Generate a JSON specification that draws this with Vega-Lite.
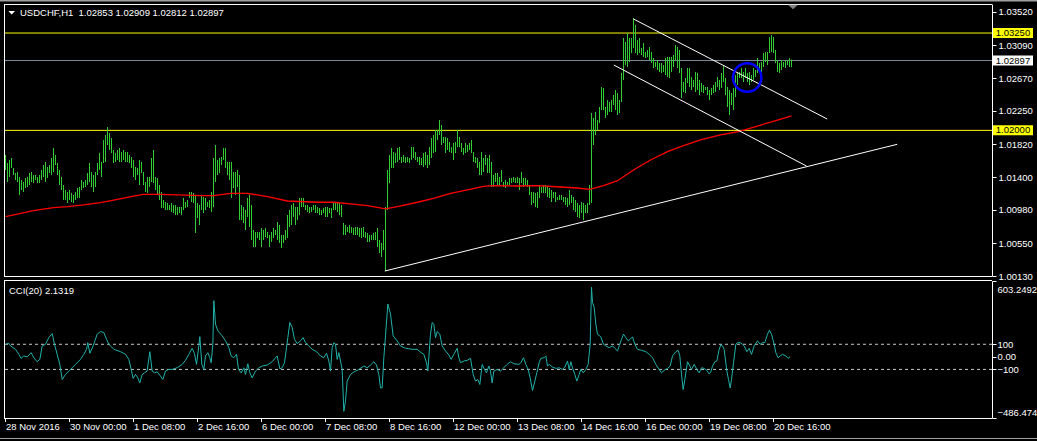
{
"$schema":"https://vega.github.io/schema/vega-lite/v6.json",
"width":988,"height":418,
"autosize":{"type":"none"},
"padding":{"left":4,"top":0,"right":45,"bottom":23},
"background":"#000000",
"config":{"view":{"stroke":null}},
"datasets":{
"bars":[
{"i":0,"h":1.01684,"l":1.01491},{"i":1,"h":1.01581,"l":1.01337},{"i":2,"h":1.01619,"l":1.01401},{"i":3,"h":1.01645,"l":1.01517},{"i":4,"h":1.01517,"l":1.01427},{"i":5,"h":1.01453,"l":1.01363},{"i":6,"h":1.01465,"l":1.01337},{"i":7,"h":1.01401,"l":1.0117},{"i":8,"h":1.01363,"l":1.01234},{"i":9,"h":1.01337,"l":1.01209},
{"i":10,"h":1.01388,"l":1.0126},{"i":11,"h":1.01401,"l":1.01273},{"i":12,"h":1.01453,"l":1.01298},{"i":13,"h":1.01465,"l":1.01337},{"i":14,"h":1.01427,"l":1.01324},{"i":15,"h":1.01427,"l":1.01363},{"i":16,"h":1.01401,"l":1.01324},{"i":17,"h":1.01427,"l":1.01324},{"i":18,"h":1.01491,"l":1.01363},{"i":19,"h":1.01555,"l":1.01401},
{"i":20,"h":1.01594,"l":1.01337},{"i":21,"h":1.0153,"l":1.01388},{"i":22,"h":1.01555,"l":1.01453},{"i":23,"h":1.01645,"l":1.01427},{"i":24,"h":1.01774,"l":1.01465},{"i":25,"h":1.01684,"l":1.01555},{"i":26,"h":1.01581,"l":1.01427},{"i":27,"h":1.01491,"l":1.01298},{"i":28,"h":1.01401,"l":1.01234},{"i":29,"h":1.01298,"l":1.01106},
{"i":30,"h":1.01234,"l":1.01106},{"i":31,"h":1.01209,"l":1.01067},{"i":32,"h":1.01234,"l":1.01106},{"i":33,"h":1.01196,"l":1.0108},{"i":34,"h":1.0117,"l":1.01067},{"i":35,"h":1.01209,"l":1.01106},{"i":36,"h":1.0126,"l":1.01132},{"i":37,"h":1.01273,"l":1.01132},{"i":38,"h":1.01363,"l":1.01234},{"i":39,"h":1.01337,"l":1.0126},
{"i":40,"h":1.01363,"l":1.01273},{"i":41,"h":1.01453,"l":1.01298},{"i":42,"h":1.01581,"l":1.01337},{"i":43,"h":1.01465,"l":1.01273},{"i":44,"h":1.01427,"l":1.01209},{"i":45,"h":1.01465,"l":1.01273},{"i":46,"h":1.01581,"l":1.01427},{"i":47,"h":1.01709,"l":1.01491},{"i":48,"h":1.01594,"l":1.01401},{"i":49,"h":1.01876,"l":1.01581},
{"i":50,"h":1.0194,"l":1.01594},{"i":51,"h":1.02043,"l":1.01812},{"i":52,"h":1.01966,"l":1.01748},{"i":53,"h":1.01902,"l":1.01709},{"i":54,"h":1.01748,"l":1.01581},{"i":55,"h":1.01709,"l":1.01594},{"i":56,"h":1.01748,"l":1.01619},{"i":57,"h":1.01774,"l":1.01594},{"i":58,"h":1.01722,"l":1.01594},{"i":59,"h":1.01748,"l":1.01619},
{"i":60,"h":1.01722,"l":1.01594},{"i":61,"h":1.01722,"l":1.01594},{"i":62,"h":1.01684,"l":1.01581},{"i":63,"h":1.01658,"l":1.01517},{"i":64,"h":1.01619,"l":1.01401},{"i":65,"h":1.0153,"l":1.01363},{"i":66,"h":1.01517,"l":1.01427},{"i":67,"h":1.01619,"l":1.01298},{"i":68,"h":1.01594,"l":1.01453},{"i":69,"h":1.01465,"l":1.01298},
{"i":70,"h":1.01337,"l":1.01209},{"i":71,"h":1.01401,"l":1.01196},{"i":72,"h":1.01401,"l":1.01273},{"i":73,"h":1.01645,"l":1.01337},{"i":74,"h":1.01748,"l":1.01324},{"i":75,"h":1.01401,"l":1.01234},{"i":76,"h":1.01388,"l":1.0117},{"i":77,"h":1.01298,"l":1.01106},{"i":78,"h":1.01209,"l":1.01003},{"i":79,"h":1.01106,"l":1.01003},
{"i":80,"h":1.0108,"l":1.00977},{"i":81,"h":1.01067,"l":1.00977},{"i":82,"h":1.01042,"l":1.00977},{"i":83,"h":1.01067,"l":1.00952},{"i":84,"h":1.01042,"l":1.00939},{"i":85,"h":1.01042,"l":1.00913},{"i":86,"h":1.01016,"l":1.00913},{"i":87,"h":1.01016,"l":1.00939},{"i":88,"h":1.01016,"l":1.00913},{"i":89,"h":1.01132,"l":1.00977},
{"i":90,"h":1.0108,"l":1.01003},{"i":91,"h":1.01106,"l":1.01016},{"i":92,"h":1.01209,"l":1.01132},{"i":93,"h":1.01209,"l":1.0108},{"i":94,"h":1.01196,"l":1.01067},{"i":95,"h":1.0117,"l":1.00682},{"i":96,"h":1.01067,"l":1.00875},{"i":97,"h":1.01042,"l":1.00785},{"i":98,"h":1.0117,"l":1.00977},{"i":99,"h":1.01144,"l":1.00939},
{"i":100,"h":1.01132,"l":1.00977},{"i":101,"h":1.0108,"l":1.01016},{"i":102,"h":1.01106,"l":1.01003},{"i":103,"h":1.01209,"l":1.00952},{"i":104,"h":1.01645,"l":1.01016},{"i":105,"h":1.01812,"l":1.01337},{"i":106,"h":1.01619,"l":1.01427},{"i":107,"h":1.01645,"l":1.01453},{"i":108,"h":1.01658,"l":1.01555},{"i":109,"h":1.01774,"l":1.01619},
{"i":110,"h":1.01774,"l":1.01517},{"i":111,"h":1.01594,"l":1.01427},{"i":112,"h":1.01594,"l":1.01363},{"i":113,"h":1.01594,"l":1.01132},{"i":114,"h":1.01465,"l":1.0126},{"i":115,"h":1.01465,"l":1.0117},{"i":116,"h":1.01491,"l":1.01273},{"i":117,"h":1.01427,"l":1.00849},{"i":118,"h":1.01042,"l":1.00849},{"i":119,"h":1.01016,"l":1.00811},
{"i":120,"h":1.00977,"l":1.00721},{"i":121,"h":1.01132,"l":1.00888},{"i":122,"h":1.0117,"l":1.00759},{"i":123,"h":1.01042,"l":1.00592},{"i":124,"h":1.00721,"l":1.00502},{"i":125,"h":1.00695,"l":1.00502},{"i":126,"h":1.00695,"l":1.00618},{"i":127,"h":1.00695,"l":1.00592},{"i":128,"h":1.00746,"l":1.00502},{"i":129,"h":1.00721,"l":1.00592},
{"i":130,"h":1.00746,"l":1.00631},{"i":131,"h":1.00695,"l":1.00618},{"i":132,"h":1.00656,"l":1.00502},{"i":133,"h":1.00695,"l":1.00567},{"i":134,"h":1.00746,"l":1.00618},{"i":135,"h":1.00721,"l":1.00656},{"i":136,"h":1.00823,"l":1.00592},{"i":137,"h":1.00785,"l":1.00554},{"i":138,"h":1.00656,"l":1.0049},{"i":139,"h":1.00656,"l":1.00554},
{"i":140,"h":1.00721,"l":1.00592},{"i":141,"h":1.00913,"l":1.00618},{"i":142,"h":1.00977,"l":1.00759},{"i":143,"h":1.01042,"l":1.00785},{"i":144,"h":1.01067,"l":1.00888},{"i":145,"h":1.01016,"l":1.00785},{"i":146,"h":1.01016,"l":1.00849},{"i":147,"h":1.01132,"l":1.00913},{"i":148,"h":1.01132,"l":1.01016},{"i":149,"h":1.01132,"l":1.01016},
{"i":150,"h":1.01042,"l":1.00977},{"i":151,"h":1.01042,"l":1.00952},{"i":152,"h":1.01016,"l":1.00939},{"i":153,"h":1.01016,"l":1.00952},{"i":154,"h":1.01042,"l":1.00977},{"i":155,"h":1.01042,"l":1.00939},{"i":156,"h":1.01016,"l":1.00939},{"i":157,"h":1.01003,"l":1.00913},{"i":158,"h":1.00977,"l":1.00913},{"i":159,"h":1.01003,"l":1.00939},
{"i":160,"h":1.01016,"l":1.00888},{"i":161,"h":1.01016,"l":1.00888},{"i":162,"h":1.01003,"l":1.00939},{"i":163,"h":1.01003,"l":1.00875},{"i":164,"h":1.0108,"l":1.00977},{"i":165,"h":1.0108,"l":1.00977},{"i":166,"h":1.0108,"l":1.00952},{"i":167,"h":1.01067,"l":1.00913},{"i":168,"h":1.01042,"l":1.00888},{"i":169,"h":1.00811,"l":1.00656},
{"i":170,"h":1.00785,"l":1.00656},{"i":171,"h":1.00759,"l":1.00695},{"i":172,"h":1.00785,"l":1.00682},{"i":173,"h":1.00759,"l":1.00682},{"i":174,"h":1.00746,"l":1.00656},{"i":175,"h":1.00759,"l":1.00656},{"i":176,"h":1.00759,"l":1.00656},{"i":177,"h":1.00746,"l":1.00631},{"i":178,"h":1.00746,"l":1.00618},{"i":179,"h":1.00759,"l":1.00631},
{"i":180,"h":1.00695,"l":1.00618},{"i":181,"h":1.00682,"l":1.00567},{"i":182,"h":1.00656,"l":1.00567},{"i":183,"h":1.00656,"l":1.00592},{"i":184,"h":1.00682,"l":1.00592},{"i":185,"h":1.00695,"l":1.00592},{"i":186,"h":1.00746,"l":1.00502},{"i":187,"h":1.00592,"l":1.00425},{"i":188,"h":1.00554,"l":1.00374},{"i":189,"h":1.00721,"l":1.00464},
{"i":190,"h":1.01016,"l":1.00194},{"i":191,"h":1.01491,"l":1.00977},{"i":192,"h":1.01684,"l":1.01324},{"i":193,"h":1.01774,"l":1.01517},{"i":194,"h":1.01722,"l":1.01517},{"i":195,"h":1.01709,"l":1.01581},{"i":196,"h":1.01774,"l":1.01594},{"i":197,"h":1.01786,"l":1.01619},
{"i":198,"h":1.01658,"l":1.01581},{"i":199,"h":1.01684,"l":1.01594},
{"i":200,"h":1.01658,"l":1.01581},{"i":201,"h":1.01658,"l":1.01594},{"i":202,"h":1.01645,"l":1.01581},{"i":203,"h":1.01786,"l":1.01619},{"i":204,"h":1.01786,"l":1.01645},{"i":205,"h":1.01722,"l":1.01619},{"i":206,"h":1.01658,"l":1.01594},{"i":207,"h":1.01658,"l":1.01555},{"i":208,"h":1.01645,"l":1.01555},{"i":209,"h":1.01709,"l":1.0153},
{"i":210,"h":1.01722,"l":1.01555},{"i":211,"h":1.01684,"l":1.01517},{"i":212,"h":1.01786,"l":1.01555},{"i":213,"h":1.01902,"l":1.01645},{"i":214,"h":1.0194,"l":1.01709},{"i":215,"h":1.02005,"l":1.01722},{"i":216,"h":1.02005,"l":1.01876},{"i":217,"h":1.02133,"l":1.0194},{"i":218,"h":1.02069,"l":1.01812},{"i":219,"h":1.01915,"l":1.01838},
{"i":220,"h":1.01915,"l":1.01709},{"i":221,"h":1.01902,"l":1.01748},{"i":222,"h":1.01851,"l":1.01722},{"i":223,"h":1.01786,"l":1.01709},{"i":224,"h":1.01838,"l":1.01619},{"i":225,"h":1.01851,"l":1.01709},{"i":226,"h":1.02005,"l":1.01786},{"i":227,"h":1.01915,"l":1.01786},{"i":228,"h":1.01838,"l":1.01722},{"i":229,"h":1.01774,"l":1.01684},
{"i":230,"h":1.01838,"l":1.01709},{"i":231,"h":1.01812,"l":1.01722},{"i":232,"h":1.01838,"l":1.01748},{"i":233,"h":1.01876,"l":1.01709},{"i":234,"h":1.01722,"l":1.01594},{"i":235,"h":1.01658,"l":1.01581},{"i":236,"h":1.01645,"l":1.01517},{"i":237,"h":1.01594,"l":1.01427},{"i":238,"h":1.01722,"l":1.01427},{"i":239,"h":1.01645,"l":1.01465},
{"i":240,"h":1.01684,"l":1.01555},{"i":241,"h":1.01645,"l":1.01453},{"i":242,"h":1.01684,"l":1.01453},{"i":243,"h":1.01594,"l":1.01273},{"i":244,"h":1.01427,"l":1.01273},{"i":245,"h":1.01453,"l":1.01337},{"i":246,"h":1.01453,"l":1.01298},{"i":247,"h":1.01401,"l":1.01298},{"i":248,"h":1.01491,"l":1.01337},{"i":249,"h":1.01337,"l":1.01273},
{"i":250,"h":1.01363,"l":1.0126},{"i":251,"h":1.01337,"l":1.01298},{"i":252,"h":1.01388,"l":1.01298},{"i":253,"h":1.01388,"l":1.01324},{"i":254,"h":1.01401,"l":1.01337},{"i":255,"h":1.01388,"l":1.01324},{"i":256,"h":1.01401,"l":1.01324},{"i":257,"h":1.01388,"l":1.01234},{"i":258,"h":1.01465,"l":1.01324},{"i":259,"h":1.01388,"l":1.01273},
{"i":260,"h":1.01388,"l":1.01298},{"i":261,"h":1.01363,"l":1.01273},{"i":262,"h":1.01298,"l":1.0117},{"i":263,"h":1.01209,"l":1.01042},{"i":264,"h":1.01209,"l":1.01067},{"i":265,"h":1.01196,"l":1.01016},{"i":266,"h":1.01209,"l":1.01003},{"i":267,"h":1.01298,"l":1.01132},{"i":268,"h":1.01273,"l":1.01196},{"i":269,"h":1.01298,"l":1.01196},
{"i":270,"h":1.01298,"l":1.01196},{"i":271,"h":1.01273,"l":1.01144},{"i":272,"h":1.0126,"l":1.01132},{"i":273,"h":1.01234,"l":1.0108},{"i":274,"h":1.01209,"l":1.01132},{"i":275,"h":1.01209,"l":1.0108},{"i":276,"h":1.01144,"l":1.01106},{"i":277,"h":1.0117,"l":1.01106},{"i":278,"h":1.0117,"l":1.01106},{"i":279,"h":1.01144,"l":1.0108},
{"i":280,"h":1.01144,"l":1.01042},{"i":281,"h":1.01132,"l":1.01016},{"i":282,"h":1.01234,"l":1.01042},{"i":283,"h":1.0117,"l":1.01067},{"i":284,"h":1.01144,"l":1.00977},{"i":285,"h":1.01106,"l":1.00952},{"i":286,"h":1.01067,"l":1.00888},{"i":287,"h":1.01042,"l":1.00875},{"i":288,"h":1.0108,"l":1.00939},{"i":289,"h":1.01067,"l":1.00849},
{"i":290,"h":1.01042,"l":1.00939},{"i":291,"h":1.01067,"l":1.00939},{"i":292,"h":1.01298,"l":1.01042},{"i":293,"h":1.02223,"l":1.01067},{"i":294,"h":1.02159,"l":1.01812},{"i":295,"h":1.02236,"l":1.0194},{"i":296,"h":1.02133,"l":1.02005},{"i":297,"h":1.023,"l":1.02095},{"i":298,"h":1.02557,"l":1.02261},{"i":299,"h":1.02544,"l":1.02261},
{"i":300,"h":1.023,"l":1.02159},{"i":301,"h":1.0239,"l":1.02197},{"i":302,"h":1.02364,"l":1.02236},{"i":303,"h":1.0239,"l":1.02236},{"i":304,"h":1.02454,"l":1.02326},{"i":305,"h":1.02518,"l":1.02261},{"i":306,"h":1.0248,"l":1.02197},{"i":307,"h":1.0239,"l":1.02223},{"i":308,"h":1.02737,"l":1.02364},{"i":309,"h":1.03186,"l":1.02647},
{"i":310,"h":1.03135,"l":1.02839},{"i":311,"h":1.0325,"l":1.02814},{"i":312,"h":1.03186,"l":1.02878},{"i":313,"h":1.03186,"l":1.02993},{"i":314,"h":1.03443,"l":1.03058},{"i":315,"h":1.03353,"l":1.02993},{"i":316,"h":1.0316,"l":1.02968},{"i":317,"h":1.03186,"l":1.02993},{"i":318,"h":1.03058,"l":1.02968},{"i":319,"h":1.03122,"l":1.02942},
{"i":320,"h":1.03006,"l":1.02929},{"i":321,"h":1.03032,"l":1.02942},{"i":322,"h":1.0307,"l":1.02903},{"i":323,"h":1.03006,"l":1.02865},{"i":324,"h":1.02929,"l":1.02801},{"i":325,"h":1.02878,"l":1.02814},{"i":326,"h":1.02903,"l":1.02775},{"i":327,"h":1.02865,"l":1.02749},{"i":328,"h":1.02865,"l":1.02737},{"i":329,"h":1.02839,"l":1.02749},
{"i":330,"h":1.02929,"l":1.02711},{"i":331,"h":1.02942,"l":1.02685},{"i":332,"h":1.02942,"l":1.02672},{"i":333,"h":1.02942,"l":1.02749},{"i":334,"h":1.02968,"l":1.02814},{"i":335,"h":1.03096,"l":1.02903},{"i":336,"h":1.0307,"l":1.02801},{"i":337,"h":1.03032,"l":1.02737},{"i":338,"h":1.02801,"l":1.02416},{"i":339,"h":1.02621,"l":1.02493},
{"i":340,"h":1.02672,"l":1.0248},{"i":341,"h":1.02801,"l":1.02608},{"i":342,"h":1.02801,"l":1.02557},{"i":343,"h":1.02685,"l":1.02518},{"i":344,"h":1.02647,"l":1.02557},{"i":345,"h":1.02749,"l":1.02493},{"i":346,"h":1.02737,"l":1.02518},{"i":347,"h":1.02647,"l":1.02454},{"i":348,"h":1.02608,"l":1.02493},{"i":349,"h":1.02582,"l":1.0248},
{"i":350,"h":1.02557,"l":1.02518},{"i":351,"h":1.02557,"l":1.02454},{"i":352,"h":1.02518,"l":1.0239},{"i":353,"h":1.02544,"l":1.02454},{"i":354,"h":1.02582,"l":1.0248},{"i":355,"h":1.02621,"l":1.02493},{"i":356,"h":1.02685,"l":1.02557},{"i":357,"h":1.02647,"l":1.02518},{"i":358,"h":1.02737,"l":1.02544},{"i":359,"h":1.02839,"l":1.02621},
{"i":360,"h":1.02672,"l":1.02454},{"i":361,"h":1.02557,"l":1.023},{"i":362,"h":1.02518,"l":1.02197},{"i":363,"h":1.0248,"l":1.02326},{"i":364,"h":1.02544,"l":1.02261},{"i":365,"h":1.02711,"l":1.02428},{"i":366,"h":1.02749,"l":1.02582},{"i":367,"h":1.02749,"l":1.02672},{"i":368,"h":1.02801,"l":1.02672},{"i":369,"h":1.02749,"l":1.02621},
{"i":370,"h":1.02801,"l":1.02672},{"i":371,"h":1.02737,"l":1.02621},{"i":372,"h":1.02749,"l":1.02582},{"i":373,"h":1.02711,"l":1.02621},{"i":374,"h":1.02801,"l":1.02647},{"i":375,"h":1.02775,"l":1.02685},{"i":376,"h":1.02929,"l":1.02737},{"i":377,"h":1.02865,"l":1.02775},{"i":378,"h":1.02878,"l":1.02749},{"i":379,"h":1.02993,"l":1.02814},
{"i":380,"h":1.03006,"l":1.02878},{"i":381,"h":1.03006,"l":1.02839},{"i":382,"h":1.03199,"l":1.02993},{"i":383,"h":1.03224,"l":1.03006},{"i":384,"h":1.03199,"l":1.02993},{"i":385,"h":1.03032,"l":1.02865},{"i":386,"h":1.02903,"l":1.02749},{"i":387,"h":1.02865,"l":1.02737},{"i":388,"h":1.02903,"l":1.02775},{"i":389,"h":1.02878,"l":1.02814},
{"i":390,"h":1.02903,"l":1.02801},{"i":391,"h":1.02903,"l":1.02839},{"i":392,"h":1.02929,"l":1.02814},{"i":393,"h":1.02909,"l":1.02812}
],
"ma":[
{"i":0,"p":1.00892},{"i":14,"p":1.00969},{"i":24,"p":1.01007},{"i":31,"p":1.0102},{"i":39,"p":1.01042},{"i":47.5,"p":1.01071},{"i":56,"p":1.01115},{"i":64,"p":1.01157},{"i":69,"p":1.01179},{"i":77.5,"p":1.01179},{"i":97.5,"p":1.01161},{"i":104,"p":1.01161},{"i":112.5,"p":1.01192},{"i":121,"p":1.01192},{"i":131,"p":1.01148},{"i":141,"p":1.01093},{"i":156,"p":1.01077},{"i":164,"p":1.01077},{"i":172.5,"p":1.01055},{"i":181,"p":1.01033},{"i":190,"p":1.00991},{"i":196,"p":1.0102},{"i":206,"p":1.01077},{"i":214,"p":1.01128},{"i":222.5,"p":1.01192},{"i":231,"p":1.01235},{"i":239,"p":1.01282},{"i":244,"p":1.0129},{"i":256,"p":1.01286},{"i":266,"p":1.0129},{"i":277.5,"p":1.01273},{"i":286,"p":1.0126},{"i":292,"p":1.01243},{"i":299,"p":1.0129},{"i":306,"p":1.01354},{"i":314,"p":1.01491},{"i":322.5,"p":1.0162},{"i":331,"p":1.01726},{"i":339,"p":1.01803},{"i":347.5,"p":1.01877},{"i":357.5,"p":1.01941},{"i":366.5,"p":1.01983},{"i":376,"p":1.02056},{"i":386,"p":1.02133},{"i":393,"p":1.02185}
],
"trend":[
{"t":"a","i":314,"p":1.0343},{"t":"a","i":410.85,"p":1.02146},
{"t":"b","i":304.15,"p":1.02839},{"t":"b","i":400.5,"p":1.01542},
{"t":"c","i":189.65,"p":1.00194},{"t":"c","i":445.85,"p":1.01821}
],
"circle":[{"i":370.85,"p":1.02679}],
"levels":[{"v":1.0325},{"v":1.02},{"v":1.02897}],
"badges":[{"v":1.0325,"t":"1.03250"},{"v":1.02897,"t":"1.02897"},{"v":1.02,"t":"1.02000"}],
"ccilev":[{"c":100},{"c":-100}],
"xticks":[{"i":0,"t":"28 Nov 2016"},{"i":32,"t":"30 Nov 00:00"},{"i":64,"t":"1 Dec 08:00"},{"i":96,"t":"2 Dec 16:00"},{"i":128,"t":"6 Dec 00:00"},{"i":160,"t":"7 Dec 08:00"},{"i":192,"t":"8 Dec 16:00"},{"i":224,"t":"12 Dec 00:00"},{"i":256,"t":"13 Dec 08:00"},{"i":288,"t":"14 Dec 16:00"},{"i":320,"t":"16 Dec 00:00"},{"i":352,"t":"19 Dec 08:00"},{"i":384,"t":"20 Dec 16:00"}],
"cci":[
{"i":0,"c":100},{"i":1.67,"c":108},{"i":2.5,"c":87},{"i":5,"c":60},{"i":6.67,"c":20},{"i":7.83,"c":-12},{"i":9.17,"c":7},{"i":10.83,"c":-1},{"i":12.83,"c":33},{"i":14.17,"c":-7},{"i":15.83,"c":-39},{"i":17.17,"c":-20},{"i":18.33,"c":87},{"i":20,"c":100},{"i":21.67,"c":153},{"i":23.33,"c":185},{"i":24.5,"c":100},{"i":25.83,"c":20},{"i":27.17,"c":-60},{"i":28.33,"c":-180},{"i":30,"c":-140},{"i":31.67,"c":-113},{"i":33.33,"c":-87},{"i":35,"c":-60},{"i":37.5,"c":-20},{"i":39.17,"c":20},{"i":40.5,"c":60},{"i":41.17,"c":113},{"i":42.17,"c":28},{"i":43.83,"c":87},{"i":45.83,"c":180},{"i":47.5,"c":201},{"i":49.17,"c":193},{"i":50.5,"c":140},{"i":51.67,"c":100},{"i":54.17,"c":60},{"i":57.5,"c":41},{"i":60,"c":20},{"i":61.67,"c":-20},{"i":62.83,"c":-100},{"i":63.83,"c":-172},{"i":65,"c":-140},{"i":66.17,"c":-167},{"i":67.17,"c":-207},{"i":68.33,"c":-140},{"i":69.5,"c":-127},{"i":70.83,"c":-113},{"i":72.17,"c":41},{"i":73.33,"c":-113},{"i":74.5,"c":-127},{"i":75.83,"c":-119},{"i":77.5,"c":-153},{"i":78.67,"c":-180},{"i":80,"c":-113},{"i":81.67,"c":-100},{"i":83.33,"c":-100},{"i":85.83,"c":-87},{"i":88.33,"c":-60},{"i":90,"c":-28},{"i":91.67,"c":20},{"i":93.33,"c":68},{"i":94.5,"c":25},{"i":95.5,"c":-60},{"i":96.67,"c":87},{"i":97.17,"c":161},{"i":98.17,"c":-60},{"i":99.17,"c":-100},{"i":100,"c":7},{"i":101.17,"c":33},{"i":102.17,"c":-7},{"i":102.83,"c":-47},{"i":103.67,"c":100},{"i":104.17,"c":447},{"i":105,"c":260},{"i":106.17,"c":207},{"i":108.33,"c":167},{"i":110,"c":127},{"i":111.67,"c":73},{"i":112.83,"c":7},{"i":114.17,"c":-7},{"i":115.5,"c":20},{"i":116.5,"c":-100},{"i":117.83,"c":-127},{"i":119.17,"c":-87},{"i":120,"c":-140},{"i":121.17,"c":-55},{"i":122.17,"c":-127},{"i":123.33,"c":-167},{"i":125,"c":-113},{"i":126.67,"c":-87},{"i":128.33,"c":-73},{"i":130.83,"c":-65},{"i":133.33,"c":-39},{"i":135.83,"c":7},{"i":137.17,"c":-95},{"i":138.33,"c":-87},{"i":139.5,"c":-47},{"i":140.5,"c":73},{"i":141.17,"c":153},{"i":142.17,"c":273},{"i":143.33,"c":233},{"i":144.5,"c":140},{"i":145.83,"c":105},{"i":147.5,"c":127},{"i":148.83,"c":153},{"i":150,"c":113},{"i":151.67,"c":87},{"i":153.33,"c":60},{"i":155.5,"c":41},{"i":157.5,"c":7},{"i":159.17,"c":-7},{"i":160.5,"c":28},{"i":161.67,"c":-33},{"i":162.5,"c":-113},{"i":163.33,"c":73},{"i":164.17,"c":113},{"i":165,"c":100},{"i":165.83,"c":-20},{"i":166.67,"c":33},{"i":167.5,"c":-33},{"i":168.33,"c":-100},{"i":169.17,"c":-433},{"i":170,"c":-353},{"i":170.83,"c":-193},{"i":172.5,"c":-140},{"i":174.17,"c":-121},{"i":176.67,"c":-100},{"i":179.17,"c":-73},{"i":180.83,"c":-87},{"i":182.5,"c":-65},{"i":184.17,"c":-39},{"i":185.5,"c":-65},{"i":186.67,"c":-140},{"i":187.5,"c":-247},{"i":188.33,"c":-247},{"i":189.17,"c":-7},{"i":190,"c":167},{"i":191.17,"c":420},{"i":192.5,"c":340},{"i":193.83,"c":167},{"i":195.83,"c":127},{"i":197.5,"c":87},{"i":200,"c":68},{"i":203.33,"c":60},{"i":205.83,"c":60},{"i":207.83,"c":33},{"i":209.17,"c":20},{"i":210.5,"c":-47},{"i":211.17,"c":-113},{"i":212.5,"c":180},{"i":213.33,"c":273},{"i":214.17,"c":260},{"i":215,"c":153},{"i":215.83,"c":201},{"i":217.17,"c":180},{"i":218.33,"c":87},{"i":220,"c":47},{"i":221.67,"c":15},{"i":222.83,"c":-20},{"i":224.17,"c":20},{"i":225.83,"c":68},{"i":226.67,"c":-7},{"i":227.5,"c":-47},{"i":229.17,"c":-33},{"i":230.83,"c":-28},{"i":232.5,"c":-12},{"i":233.83,"c":-140},{"i":235,"c":-193},{"i":236.17,"c":-180},{"i":237.17,"c":-220},{"i":238.33,"c":-60},{"i":239.5,"c":-100},{"i":240.5,"c":-127},{"i":241.67,"c":-73},{"i":242.5,"c":-113},{"i":243.33,"c":-207},{"i":244.17,"c":-113},{"i":245.83,"c":-100},{"i":247.5,"c":-113},{"i":249.17,"c":-87},{"i":250.83,"c":-60},{"i":252.5,"c":-39},{"i":254.17,"c":-55},{"i":256.67,"c":-60},{"i":257.67,"c":-47},{"i":259,"c":-7},{"i":260.17,"c":-60},{"i":261.33,"c":-100},{"i":262.33,"c":-167},{"i":263.5,"c":-268},{"i":264.67,"c":-193},{"i":265.67,"c":-127},{"i":266.83,"c":-47},{"i":267.67,"c":-12},{"i":269.33,"c":-7},{"i":270.17,"c":7},{"i":271,"c":-73},{"i":271.83,"c":-60},{"i":273.5,"c":-81},{"i":275.17,"c":-92},{"i":276.83,"c":-87},{"i":278.5,"c":-100},{"i":279.67,"c":-81},{"i":281,"c":-33},{"i":281.83,"c":-100},{"i":282.67,"c":-39},{"i":283.5,"c":-87},{"i":284.67,"c":-140},{"i":285.67,"c":-193},{"i":286.83,"c":-140},{"i":287.67,"c":-100},{"i":288.83,"c":-127},{"i":290.17,"c":-100},{"i":291.33,"c":-60},{"i":292.33,"c":100},{"i":293,"c":553},{"i":293.5,"c":433},{"i":294.33,"c":393},{"i":295.17,"c":260},{"i":296,"c":180},{"i":297.67,"c":159},{"i":299,"c":100},{"i":300.17,"c":87},{"i":301.83,"c":73},{"i":303.5,"c":87},{"i":304.67,"c":68},{"i":306,"c":47},{"i":306.83,"c":87},{"i":308,"c":140},{"i":309,"c":180},{"i":310.17,"c":153},{"i":311.33,"c":127},{"i":312.33,"c":140},{"i":313.5,"c":159},{"i":314.67,"c":100},{"i":316,"c":60},{"i":318,"c":52},{"i":320.17,"c":41},{"i":321.83,"c":20},{"i":323.5,"c":-7},{"i":325.17,"c":-60},{"i":326.83,"c":-100},{"i":328,"c":-127},{"i":329.33,"c":-108},{"i":331,"c":-92},{"i":332.33,"c":-73},{"i":333.5,"c":7},{"i":335.17,"c":41},{"i":336.33,"c":52},{"i":337.17,"c":7},{"i":338,"c":-140},{"i":338.83,"c":-260},{"i":339.67,"c":-180},{"i":341,"c":-39},{"i":342.17,"c":-73},{"i":343,"c":-100},{"i":344.33,"c":-60},{"i":345.67,"c":-100},{"i":346.83,"c":-127},{"i":348,"c":-87},{"i":349.33,"c":-92},{"i":350.67,"c":-108},{"i":351.83,"c":-135},{"i":352.67,"c":-119},{"i":353.5,"c":-73},{"i":354.67,"c":-39},{"i":355.67,"c":-33},{"i":356.83,"c":60},{"i":357.67,"c":95},{"i":358.5,"c":87},{"i":359.33,"c":60},{"i":360.67,"c":-113},{"i":361.5,"c":-180},{"i":362.33,"c":-247},{"i":363,"c":-180},{"i":364,"c":-47},{"i":365.17,"c":100},{"i":366,"c":113},{"i":367.33,"c":113},{"i":368.5,"c":100},{"i":369.33,"c":87},{"i":370.67,"c":41},{"i":371.83,"c":68},{"i":373,"c":20},{"i":374.33,"c":87},{"i":376,"c":127},{"i":377.33,"c":100},{"i":378.5,"c":113},{"i":379.67,"c":113},{"i":381,"c":180},{"i":382,"c":212},{"i":383,"c":180},{"i":384.33,"c":100},{"i":385.17,"c":33},{"i":386.33,"c":-7},{"i":387.33,"c":7},{"i":388.5,"c":20},{"i":390.17,"c":7},{"i":391.33,"c":-12},{"i":392.33,"c":2.1319}
]
},
"layer":[
{"data":{"name":"levels"},"mark":{"type":"rule","strokeWidth":1},
 "encoding":{"y":{"field":"v","type":"quantitative","scale":{"domain":[1.0013,1.036227],"range":[276,4],"nice":false,"zero":false},"axis":null},
 "color":{"condition":{"test":"datum.v == 1.02897","value":"#778899"},"value":"#FFFF00"}}},
{"data":{"name":"bars"},"mark":{"type":"rule","color":"#32CD32","strokeWidth":1},
 "encoding":{
  "x":{"field":"i","type":"quantitative","scale":{"domain":[-0.75,493.25],"nice":false,"zero":false},"axis":null},
  "y":{"field":"h","type":"quantitative","scale":{"domain":[1.0013,1.036227],"range":[276,4],"nice":false,"zero":false},
   "axis":{"orient":"right","values":[1.0352,1.0309,1.0267,1.0225,1.0182,1.014,1.0098,1.0055,1.0013],"format":".5f","title":null,"grid":false,"tickSize":4,"labelPadding":2,"labelColor":"#FFFFFF","tickColor":"#FFFFFF","domainColor":"#FFFFFF","labelFont":"Liberation Sans","labelFontSize":9.5,"labelFlush":false,"labelOverlap":false,"labelBound":false}},
  "y2":{"field":"l"}}},
{"data":{"name":"ma"},"mark":{"type":"line","color":"#FF0000","strokeWidth":1.3},
 "encoding":{"x":{"field":"i","type":"quantitative","scale":{"domain":[-0.75,493.25],"nice":false,"zero":false},"axis":null},
 "y":{"field":"p","type":"quantitative","scale":{"domain":[1.0013,1.036227],"range":[276,4],"nice":false,"zero":false},"axis":null}}},
{"data":{"name":"trend"},"mark":{"type":"line","color":"#FFFFFF","strokeWidth":1},
 "encoding":{"x":{"field":"i","type":"quantitative","scale":{"domain":[-0.75,493.25],"nice":false,"zero":false},"axis":null},
 "y":{"field":"p","type":"quantitative","scale":{"domain":[1.0013,1.036227],"range":[276,4],"nice":false,"zero":false},"axis":null},
 "detail":{"field":"t","type":"nominal"}}},
{"data":{"name":"circle"},"mark":{"type":"point","shape":"circle","size":804,"filled":false,"stroke":"#0000FF","strokeWidth":2.5,"opacity":1},
 "encoding":{"x":{"field":"i","type":"quantitative","scale":{"domain":[-0.75,493.25],"nice":false,"zero":false},"axis":null},
 "y":{"field":"p","type":"quantitative","scale":{"domain":[1.0013,1.036227],"range":[276,4],"nice":false,"zero":false},"axis":null}}},
{"data":{"name":"ccilev"},"mark":{"type":"rule","color":"#C8C8C8","strokeDash":[3,3],"strokeWidth":1},
 "encoding":{"y":{"field":"c","type":"quantitative","scale":{"domain":[-486.4747,603.2492],"range":[418,281],"nice":false,"zero":false},"axis":null}}},
{"data":{"name":"cci"},"mark":{"type":"line","color":"#20B2AA","strokeWidth":1},
 "encoding":{"x":{"field":"i","type":"quantitative","scale":{"domain":[-0.75,493.25],"nice":false,"zero":false},"axis":null},
 "y":{"field":"c","type":"quantitative","scale":{"domain":[-486.4747,603.2492],"range":[418,281],"nice":false,"zero":false},
  "axis":{"orient":"right","values":[603.2492,100,0,-100,-486.4747],"labelExpr":"datum.value == 0 ? '0.00' : abs(datum.value) == 100 ? format(datum.value, 'd') : format(datum.value, '.4f')","labelOffset":{"condition":[{"test":"datum.value > 500","value":8},{"test":"datum.value < -400","value":-6}],"value":0},"title":null,"grid":false,"tickSize":4,"labelPadding":1,"labelColor":"#FFFFFF","tickColor":"#FFFFFF","domainColor":"#FFFFFF","labelFont":"Liberation Sans","labelFontSize":9.5,"labelFlush":false,"labelOverlap":false,"labelBound":false}}}},
{"data":{"name":"xticks"},"mark":{"type":"rule","color":"#FFFFFF","strokeWidth":1},
 "encoding":{"x":{"field":"i","type":"quantitative","scale":{"domain":[-0.75,493.25],"nice":false,"zero":false},"axis":null},
 "y":{"datum":-486.4747,"type":"quantitative","scale":{"domain":[-486.4747,603.2492],"range":[418,281],"nice":false,"zero":false},"axis":null},
 "y2":{"datum":-518.3}}},
{"data":{"name":"xticks"},"mark":{"type":"text","color":"#FFFFFF","font":"Liberation Sans","fontSize":9.5,"align":"left","baseline":"middle","dx":0.5},
 "encoding":{"x":{"field":"i","type":"quantitative","scale":{"domain":[-0.75,493.25],"nice":false,"zero":false},"axis":null},
 "y":{"datum":-562,"type":"quantitative","scale":{"domain":[-486.4747,603.2492],"range":[418,281],"nice":false,"zero":false},"axis":null},
 "text":{"field":"t","type":"nominal"}}},
{"data":{"values":[{}]},"mark":{"type":"rule","color":"#FFFFFF","strokeWidth":1},
 "encoding":{"y":{"datum":1.036163,"type":"quantitative","scale":{"domain":[1.0013,1.036227],"range":[276,4],"nice":false,"zero":false},"axis":null}}},
{"data":{"values":[{}]},"mark":{"type":"rule","color":"#FFFFFF","strokeWidth":1},
 "encoding":{"y":{"datum":1.001236,"type":"quantitative","scale":{"domain":[1.0013,1.036227],"range":[276,4],"nice":false,"zero":false},"axis":null}}},
{"data":{"values":[{}]},"mark":{"type":"rule","color":"#FFFFFF","strokeWidth":1},
 "encoding":{"x":{"datum":-0.5,"type":"quantitative","scale":{"domain":[-0.75,493.25],"nice":false,"zero":false},"axis":null},
 "y":{"datum":1.036163,"type":"quantitative","scale":{"domain":[1.0013,1.036227],"range":[276,4],"nice":false,"zero":false},"axis":null},
 "y2":{"datum":1.001236}}},
{"data":{"values":[{}]},"mark":{"type":"rule","color":"#FFFFFF","strokeWidth":1},
 "encoding":{"y":{"datum":607.2,"type":"quantitative","scale":{"domain":[-486.4747,603.2492],"range":[418,281],"nice":false,"zero":false},"axis":null}}},
{"data":{"values":[{}]},"mark":{"type":"rule","color":"#FFFFFF","strokeWidth":1},
 "encoding":{"y":{"datum":-490.45,"type":"quantitative","scale":{"domain":[-486.4747,603.2492],"range":[418,281],"nice":false,"zero":false},"axis":null}}},
{"data":{"values":[{}]},"mark":{"type":"rule","color":"#FFFFFF","strokeWidth":1},
 "encoding":{"x":{"datum":-0.5,"type":"quantitative","scale":{"domain":[-0.75,493.25],"nice":false,"zero":false},"axis":null},
 "y":{"datum":607.2,"type":"quantitative","scale":{"domain":[-486.4747,603.2492],"range":[418,281],"nice":false,"zero":false},"axis":null},
 "y2":{"datum":-490.45}}},
{"data":{"values":[{}]},"mark":{"type":"rule","color":"#A0A0A0","strokeWidth":2},
 "encoding":{"x":{"datum":-2.75,"type":"quantitative","scale":{"domain":[-0.75,493.25],"nice":false,"zero":false},"axis":null},
 "x2":{"datum":515.75},
 "y":{"datum":1.03667,"type":"quantitative","scale":{"domain":[1.0013,1.036227],"range":[276,4],"nice":false,"zero":false},"axis":null}}},
{"data":{"values":[{}]},"mark":{"type":"rule","color":"#A0A0A0","strokeWidth":1},
 "encoding":{"x":{"datum":-2.75,"type":"quantitative","scale":{"domain":[-0.75,493.25],"nice":false,"zero":false},"axis":null},
 "x2":{"datum":515.75},
 "y":{"datum":-649.5,"type":"quantitative","scale":{"domain":[-486.4747,603.2492],"range":[418,281],"nice":false,"zero":false},"axis":null}}},
{"data":{"name":"badges"},"mark":{"type":"tick","orient":"horizontal","size":40,"thickness":10,"opacity":1},
 "encoding":{"x":{"datum":503.75,"type":"quantitative","scale":{"domain":[-0.75,493.25],"nice":false,"zero":false},"axis":null},
 "y":{"field":"v","type":"quantitative","scale":{"domain":[1.0013,1.036227],"range":[276,4],"nice":false,"zero":false},"axis":null},
 "color":{"condition":{"test":"datum.v == 1.02897","value":"#FFFFFF"},"value":"#FFFF00"}}},
{"data":{"name":"badges"},"mark":{"type":"text","color":"#000000","font":"Liberation Sans","fontSize":9.5,"align":"center","baseline":"middle"},
 "encoding":{"x":{"datum":503.75,"type":"quantitative","scale":{"domain":[-0.75,493.25],"nice":false,"zero":false},"axis":null},
 "y":{"field":"v","type":"quantitative","scale":{"domain":[1.0013,1.036227],"range":[276,4],"nice":false,"zero":false},"axis":null},
 "text":{"field":"t","type":"nominal"}}},
{"data":{"values":[{}]},"mark":{"type":"text","color":"#FFFFFF","font":"Liberation Sans","fontSize":9.5,"align":"left","baseline":"middle"},
 "encoding":{"x":{"datum":7.25,"type":"quantitative","scale":{"domain":[-0.75,493.25],"nice":false,"zero":false},"axis":null},
 "y":{"datum":1.03507,"type":"quantitative","scale":{"domain":[1.0013,1.036227],"range":[276,4],"nice":false,"zero":false},"axis":null},
 "text":{"value":"USDCHF,H1\u00a0\u00a01.02853 1.02909 1.02812 1.02897"}}},
{"data":{"values":[{}]},"mark":{"type":"point","shape":"M-1,-0.5L1,-0.5L0,0.5Z","size":45,"filled":true,"color":"#FFFFFF","opacity":1},
 "encoding":{"x":{"datum":3.1,"type":"quantitative","scale":{"domain":[-0.75,493.25],"nice":false,"zero":false},"axis":null},
 "y":{"datum":1.03511,"type":"quantitative","scale":{"domain":[1.0013,1.036227],"range":[276,4],"nice":false,"zero":false},"axis":null}}},
{"data":{"values":[{}]},"mark":{"type":"point","shape":"M-1,-0.45L1,-0.45L0,0.45Z","size":100,"filled":true,"color":"#808080","opacity":1},
 "encoding":{"x":{"datum":393.75,"type":"quantitative","scale":{"domain":[-0.75,493.25],"nice":false,"zero":false},"axis":null},
 "y":{"datum":1.03584,"type":"quantitative","scale":{"domain":[1.0013,1.036227],"range":[276,4],"nice":false,"zero":false},"axis":null}}},
{"data":{"values":[{}]},"mark":{"type":"text","color":"#FFFFFF","font":"Liberation Sans","fontSize":9.5,"align":"left","baseline":"middle"},
 "encoding":{"x":{"datum":1.75,"type":"quantitative","scale":{"domain":[-0.75,493.25],"nice":false,"zero":false},"axis":null},
 "y":{"datum":526,"type":"quantitative","scale":{"domain":[-486.4747,603.2492],"range":[418,281],"nice":false,"zero":false},"axis":null},
 "text":{"value":"CCI(20) 2.1319"}}}
],
"resolve":{"scale":{"y":"independent"}}
}
